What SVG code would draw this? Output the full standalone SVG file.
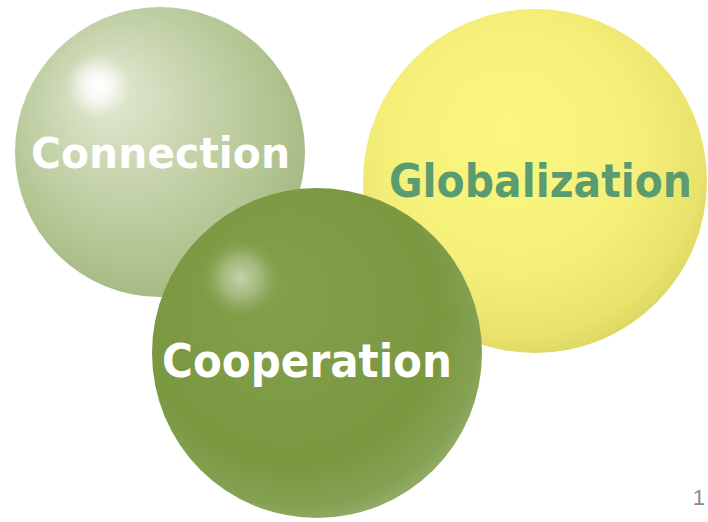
<svg xmlns="http://www.w3.org/2000/svg" width="708" height="522" viewBox="0 0 708 522">
<defs>
<radialGradient id="gConn" cx="0.45" cy="0.42" r="0.58" fx="0.3" fy="0.28">
<stop offset="0" stop-color="#e4ead6"/>
<stop offset="0.35" stop-color="#cdd9b6"/>
<stop offset="0.8" stop-color="#b3c592"/>
<stop offset="1" stop-color="#a6ba84"/>
</radialGradient>
<radialGradient id="gGlob" cx="0.45" cy="0.42" r="0.6" fx="0.42" fy="0.35">
<stop offset="0" stop-color="#fbf77e"/>
<stop offset="0.6" stop-color="#f5f07a"/>
<stop offset="0.9" stop-color="#e9e36c"/>
<stop offset="1" stop-color="#dcd664"/>
</radialGradient>
<radialGradient id="gCoop" cx="0.45" cy="0.42" r="0.6" fx="0.35" fy="0.3">
<stop offset="0" stop-color="#83a04c"/>
<stop offset="0.75" stop-color="#7a9840"/>
<stop offset="0.93" stop-color="#85a254"/>
<stop offset="1" stop-color="#94ad68"/>
</radialGradient>
<radialGradient id="hlWhite">
<stop offset="0" stop-color="#ffffff" stop-opacity="1"/>
<stop offset="0.35" stop-color="#ffffff" stop-opacity="0.8"/>
<stop offset="1" stop-color="#ffffff" stop-opacity="0"/>
</radialGradient>
<radialGradient id="hlSoft">
<stop offset="0" stop-color="#c4d2ac" stop-opacity="1"/>
<stop offset="0.5" stop-color="#b0c38e" stop-opacity="0.7"/>
<stop offset="1" stop-color="#8aa656" stop-opacity="0"/>
</radialGradient>
<style>
.lbl{font-family:"Century Gothic","URW Gothic","DejaVu Sans","Liberation Sans",sans-serif;font-weight:bold;}
</style>
</defs>
<rect width="708" height="522" fill="#ffffff"/>
<g id="connection">
<circle cx="160" cy="152" r="145" fill="url(#gConn)"/>
<circle cx="98" cy="86" r="32" fill="url(#hlWhite)"/>
<text class="lbl" x="31" y="168" font-size="43" fill="#ffffff" textLength="259" lengthAdjust="spacingAndGlyphs">Connection</text>
</g>
<g id="globalization">
<circle cx="535" cy="181" r="172" fill="url(#gGlob)"/>
<text class="lbl" x="389" y="197" font-size="47" fill="#5a9b70" textLength="303" lengthAdjust="spacingAndGlyphs">Globalization</text>
</g>
<g id="cooperation">
<circle cx="317" cy="353" r="165" fill="url(#gCoop)"/>
<circle cx="241" cy="278" r="40" fill="url(#hlSoft)"/>
<text class="lbl" x="162" y="377" font-size="46" fill="#ffffff" textLength="290" lengthAdjust="spacingAndGlyphs">Cooperation</text>
</g>
<g id="connectors"></g>
<text x="705" y="505" text-anchor="end" font-family="Liberation Sans, sans-serif" font-size="22" fill="#8a8a8a">1</text>
</svg>
